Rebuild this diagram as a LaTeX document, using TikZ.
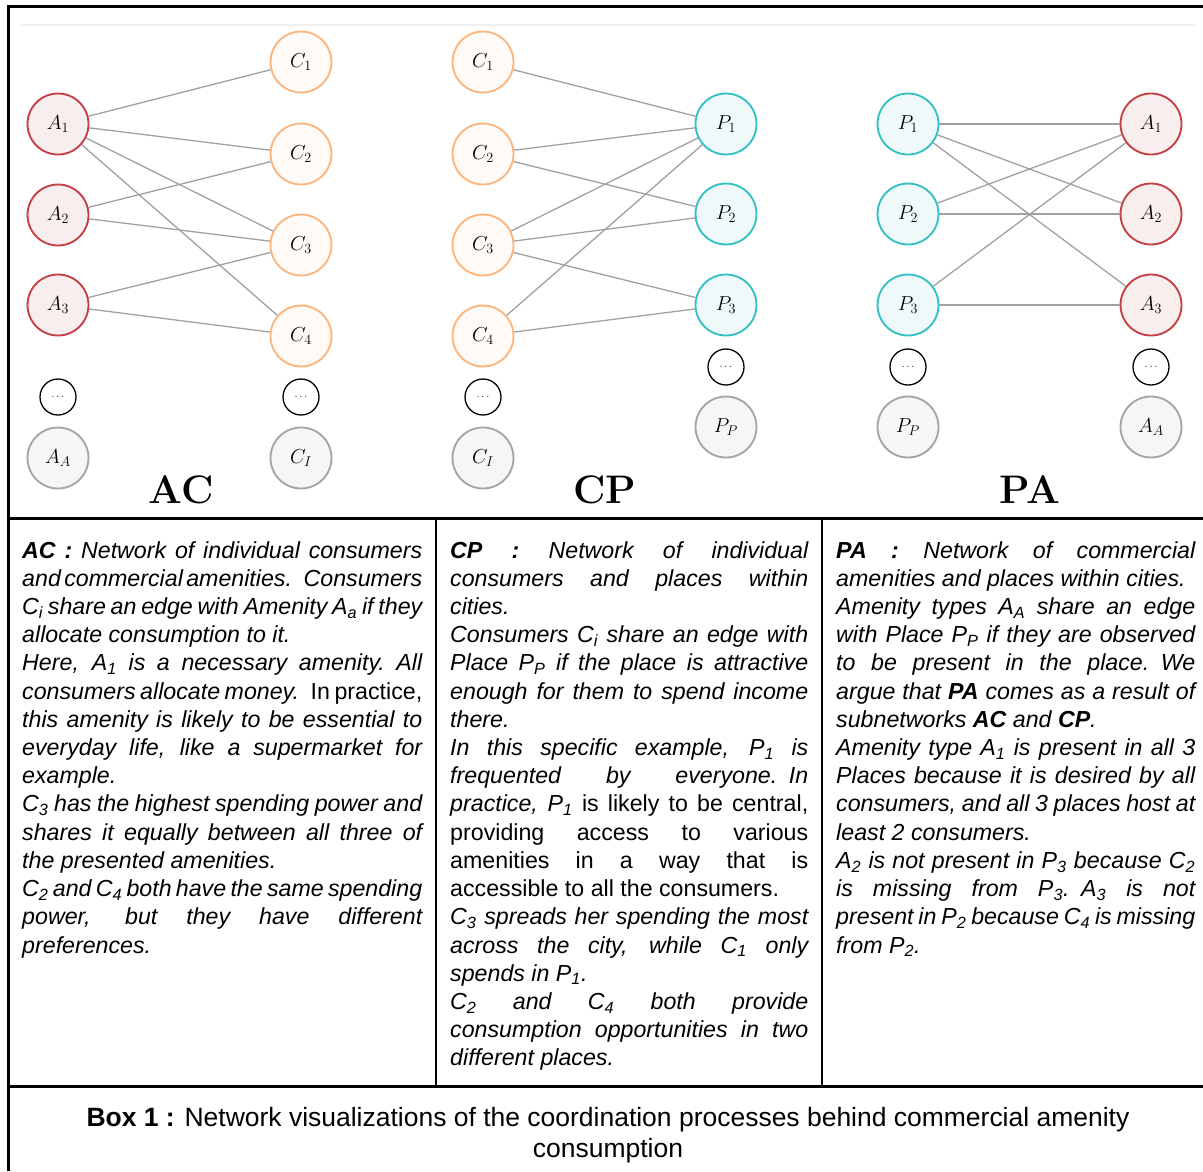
\documentclass[tikz,border=0pt]{standalone}
\usepackage{fontspec}
\newfontfamily\boxfont{Liberation Sans}
\newcommand\boxspacing{\spaceskip=0.278em plus 0.8em minus 0.13em\relax}
\newcommand\jline[1]{\hbox to\linewidth{#1}}
\newcommand\pline[1]{\hbox{#1}}
\definecolor{amenred}{RGB}{196,64,70}
\definecolor{amenfill}{RGB}{249,238,238}
\definecolor{consorange}{RGB}{251,182,128}
\definecolor{consfill}{RGB}{255,250,245}
\definecolor{placeteal}{RGB}{52,192,196}
\definecolor{placefill}{RGB}{240,249,249}
\definecolor{restgray}{RGB}{165,165,165}
\definecolor{restfill}{RGB}{246,246,246}
\definecolor{edgegray}{RGB}{160,160,160}
\begin{document}
\begin{tikzpicture}[x=0.03cm,y=-0.03cm,
    every node/.style={inner sep=0pt},
    vertex/.style={circle,minimum size=1.83cm,line width=1.6pt,font=\fontsize{17}{17}\selectfont},
    amen/.style={vertex,draw=amenred,fill=amenfill},
    cons/.style={vertex,draw=consorange,fill=consfill},
    place/.style={vertex,draw=placeteal,fill=placefill},
    rest/.style={vertex,draw=restgray,fill=restfill},
    more/.style={circle,draw=black,line width=1.1pt,minimum size=1.08cm,font=\fontsize{9}{9}\selectfont},
    link/.style={draw=edgegray,line width=1.1pt},
    nettitle/.style={font=\fontsize{34}{34}\selectfont\bfseries},
    boxtext/.style={anchor=north west,font=\boxfont\fontsize{19.8}{24.08}\selectfont\itshape},
    frame/.style={line width=2.6pt}]
    \useasboundingbox (0,0) rectangle (1203,1171);
    \draw [black!6, line width=1pt] (20,25) -- (1195,25);

    \node [amen] (aca1) at (58,124) {$A_1$};
    \node [amen] (aca2) at (58,215) {$A_2$};
    \node [amen] (aca3) at (58,305) {$A_3$};
    \node [more] (acadots) at (58,397) {$\cdots$};
    \node [rest] (acaa) at (58,458) {$A_A$};
    \node [cons] (acc1) at (301,62) {$C_1$};
    \node [cons] (acc2) at (301,154) {$C_2$};
    \node [cons] (acc3) at (301,245) {$C_3$};
    \node [cons] (acc4) at (301,336) {$C_4$};
    \node [more] (accdots) at (301,397) {$\cdots$};
    \node [rest] (acci) at (301,458) {$C_I$};
    \node [nettitle] (actitle) at (181,490) {AC};
    \draw [link] (aca1) -- (acc1);
    \draw [link] (aca1) -- (acc2);
    \draw [link] (aca1) -- (acc3);
    \draw [link] (aca1) -- (acc4);
    \draw [link] (aca2) -- (acc2);
    \draw [link] (aca2) -- (acc3);
    \draw [link] (aca3) -- (acc3);
    \draw [link] (aca3) -- (acc4);

    \node [cons] (cpc1) at (483,62) {$C_1$};
    \node [cons] (cpc2) at (483,154) {$C_2$};
    \node [cons] (cpc3) at (483,245) {$C_3$};
    \node [cons] (cpc4) at (483,336) {$C_4$};
    \node [more] (cpcdots) at (483,397) {$\cdots$};
    \node [rest] (cpci) at (483,458) {$C_I$};
    \node [place] (cpp1) at (726,124) {$P_1$};
    \node [place] (cpp2) at (726,214) {$P_2$};
    \node [place] (cpp3) at (726,305) {$P_3$};
    \node [more] (cppdots) at (726,367) {$\cdots$};
    \node [rest] (cppp) at (726,427) {$P_P$};
    \node [nettitle] (cptitle) at (605,490) {CP};
    \draw [link] (cpc1) -- (cpp1);
    \draw [link] (cpc2) -- (cpp1);
    \draw [link] (cpc2) -- (cpp2);
    \draw [link] (cpc3) -- (cpp1);
    \draw [link] (cpc3) -- (cpp2);
    \draw [link] (cpc3) -- (cpp3);
    \draw [link] (cpc4) -- (cpp1);
    \draw [link] (cpc4) -- (cpp3);

    \node [place] (pap1) at (908,124) {$P_1$};
    \node [place] (pap2) at (908,214) {$P_2$};
    \node [place] (pap3) at (908,305) {$P_3$};
    \node [more] (papdots) at (908,367) {$\cdots$};
    \node [rest] (papp) at (908,427) {$P_P$};
    \node [amen] (paa1) at (1151,124) {$A_1$};
    \node [amen] (paa2) at (1151,214) {$A_2$};
    \node [amen] (paa3) at (1151,305) {$A_3$};
    \node [more] (paadots) at (1151,367) {$\cdots$};
    \node [rest] (paaa) at (1151,427) {$A_A$};
    \node [nettitle] (patitle) at (1030,490) {PA};
    \draw [link] (pap1) -- (paa1);
    \draw [link] (pap1) -- (paa2);
    \draw [link] (pap1) -- (paa3);
    \draw [link] (pap2) -- (paa1);
    \draw [link] (pap2) -- (paa2);
    \draw [link] (pap3) -- (paa1);
    \draw [link] (pap3) -- (paa3);

    \draw [frame] (8.5,1171) -- (8.5,6.5) -- (1203,6.5);
    \draw [frame] (8.5,518.5) -- (1203,518.5);
    \draw [frame] (8.5,1086.5) -- (1203,1086.5);
    \draw [line width=2pt] (436,518.5) -- (436,1086.5);
    \draw [line width=2pt] (822,518.5) -- (822,1086.5);

    \node [boxtext,text width=12cm] (actext) at (22,541) {\boxspacing
      \jline{\textbf{AC :} Network of individual consumers}
      \jline{and commercial amenities. Consumers}
      \jline{C\textsubscript{i} share an edge with Amenity A\textsubscript{a} if they}
      \pline{allocate consumption to it.}
      \jline{Here, A\textsubscript{1} is a necessary amenity. All}
      \jline{consumers allocate money. {\upshape In practice,}}
      \jline{this amenity is likely to be essential to}
      \jline{everyday life, like a supermarket for}
      \pline{example.}
      \jline{C\textsubscript{3} has the highest spending power and}
      \jline{shares it equally between all three of}
      \pline{the presented amenities.}
      \jline{C\textsubscript{2} and C\textsubscript{4} both have the same spending}
      \jline{power, but they have different}
      \pline{preferences.}};
    \node [boxtext,text width=10.74cm] (cptext) at (450,541) {\boxspacing
      \jline{\textbf{CP :} Network of individual}
      \jline{consumers and places within}
      \pline{cities.}
      \jline{Consumers C\textsubscript{i} share an edge with}
      \jline{Place P\textsubscript{P} if the place is attractive}
      \jline{enough for them to spend income}
      \pline{there.}
      \jline{In this specific example, P\textsubscript{1} is}
      \jline{frequented by everyone. In}
      \jline{practice, P\textsubscript{1} {\upshape is likely to be central,}}
      \jline{\upshape providing access to various}
      \jline{\upshape amenities in a way that is}
      \pline{\upshape accessible to all the consumers.}
      \jline{C\textsubscript{3} spreads her spending the most}
      \jline{across the city, while C\textsubscript{1} only}
      \pline{spends in P\textsubscript{1}.}
      \jline{C\textsubscript{2} and C\textsubscript{4} both provide}
      \jline{consumption opportunities in two}
      \pline{different places.}};
    \node [boxtext,text width=10.77cm] (patext) at (836,541) {\boxspacing
      \jline{\textbf{PA :} Network of commercial}
      \pline{amenities and places within cities.}
      \jline{Amenity types A\textsubscript{A} share an edge}
      \jline{with Place P\textsubscript{P} if they are observed}
      \jline{to be present in the place. We}
      \jline{argue that \textbf{PA} comes as a result of}
      \pline{subnetworks \textbf{AC} and \textbf{CP}.}
      \jline{Amenity type A\textsubscript{1} is present in all 3}
      \jline{Places because it is desired by all}
      \jline{consumers, and all 3 places host at}
      \pline{least 2 consumers.}
      \jline{A\textsubscript{2} is not present in P\textsubscript{3} because C\textsubscript{2}}
      \jline{is missing from P\textsubscript{3}. A\textsubscript{3} is not}
      \jline{present in P\textsubscript{2} because C\textsubscript{4} is missing}
      \pline{from P\textsubscript{2}.}};
    \node [align=center,font=\boxfont\fontsize{22.6}{26.4}\selectfont] (caption) at (608,1135) {%
      \textbf{Box 1 :} Network visualizations of the coordination processes behind commercial amenity\\
      consumption};
\end{tikzpicture}
\end{document}
